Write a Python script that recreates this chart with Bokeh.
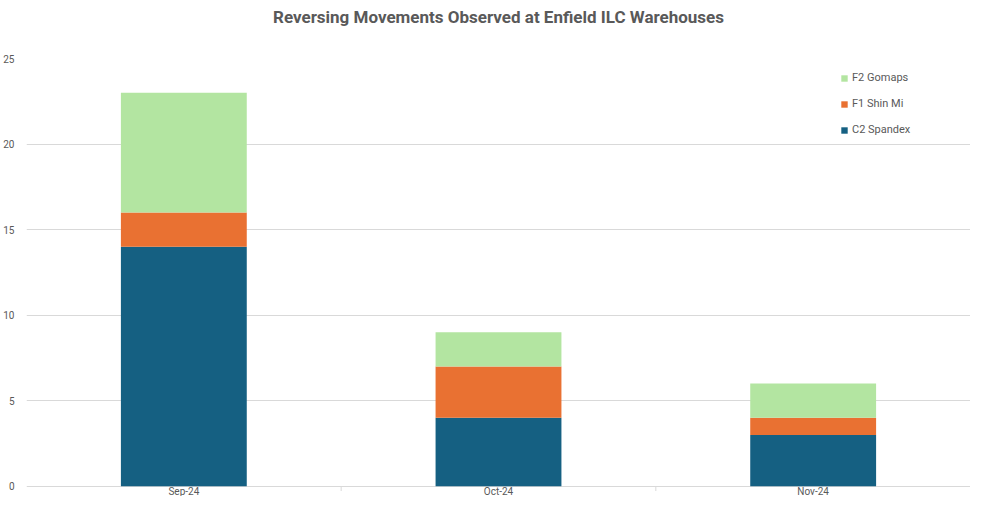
from bokeh.plotting import figure
from bokeh.models import Range1d, FixedTicker, Legend, LegendItem, ColumnDataSource, Title
from bokeh.core.properties import value
from bokeh.embed import file_html
from bokeh.resources import INLINE

months = ["Sep-24", "Oct-24", "Nov-24"]
series = ["C2 Spandex", "F1 Shin Mi", "F2 Gomaps"]
c2_spandex = [14, 4, 3]
f1_shin_mi = [2, 3, 1]
f2_gomaps = [7, 2, 2]
colors = ["#156082", "#E97132", "#B3E5A1"]
y_ticks = [0, 5, 10, 15, 20, 25]
title_text = "Reversing Movements Observed at Enfield ILC Warehouses"

xpos = [i + 0.5 for i in range(len(months))]
src = ColumnDataSource(dict(x=xpos, c2=c2_spandex, f1=f1_shin_mi, f2=f2_gomaps))

# y-range extends slightly below 0 to leave room for the category labels
p = figure(width=970, height=496, output_backend="svg", toolbar_location=None,
           title=None, x_axis_location=None,
           x_range=Range1d(0, len(months)), y_range=Range1d(-0.6, 25),
           min_border_left=24, min_border_right=0, min_border_bottom=0, min_border_top=0)

renderers = p.vbar_stack(["c2", "f1", "f2"], x="x", width=0.4, source=src,
                         color=colors, line_color=None)

spacer = Title(text=" ", text_font_size="10px", standoff=15)
p.add_layout(spacer, "above")
t = Title(text=title_text, align="center", text_font="Roboto", text_font_style="bold",
          text_font_size="17px", text_color="#595959", standoff=8, offset=0)
p.add_layout(t, "above")

p.outline_line_color = None
p.background_fill_color = "white"

# x axis drawn by hand: baseline is the 0 gridline, separators and labels below it
p.xgrid.grid_line_color = None
bounds = [i + 1 for i in range(len(months) - 1)]
p.segment(x0=bounds, y0=[0] * len(bounds), x1=bounds, y1=[-0.28] * len(bounds),
          line_color="#D9D9D9", line_width=1)
p.text(x=xpos, y=[-0.33] * len(xpos), text=months, text_align="center",
       text_baseline="middle", text_font=value("Roboto"), text_font_size="10px",
       text_color="#595959")

# y axis
p.yaxis.ticker = FixedTicker(ticks=y_ticks)
p.yaxis.axis_line_color = None
p.yaxis.major_tick_line_color = None
p.yaxis.major_tick_out = 0
p.yaxis.minor_tick_line_color = None
p.yaxis.major_label_text_font = "Roboto"
p.yaxis.major_label_text_font_size = "10px"
p.yaxis.major_label_text_color = "#595959"
p.yaxis.major_label_standoff = 12
p.yaxis.axis_label = None
p.yaxis.axis_label_standoff = 0
p.ygrid.grid_line_color = "#D9D9D9"

items = [LegendItem(label=s, renderers=[r]) for s, r in zip(series, renderers)][::-1]
legend = Legend(items=items, location=(814, 360), orientation="vertical",
                glyph_width=8, glyph_height=8, label_height=12, spacing=13,
                label_text_font="Roboto", label_text_font_size="11px",
                label_text_color="#595959", label_standoff=4,
                border_line_color=None, background_fill_alpha=0,
                padding=0, margin=0)
p.add_layout(legend)

open("out.html", "w").write(file_html(p, INLINE))
